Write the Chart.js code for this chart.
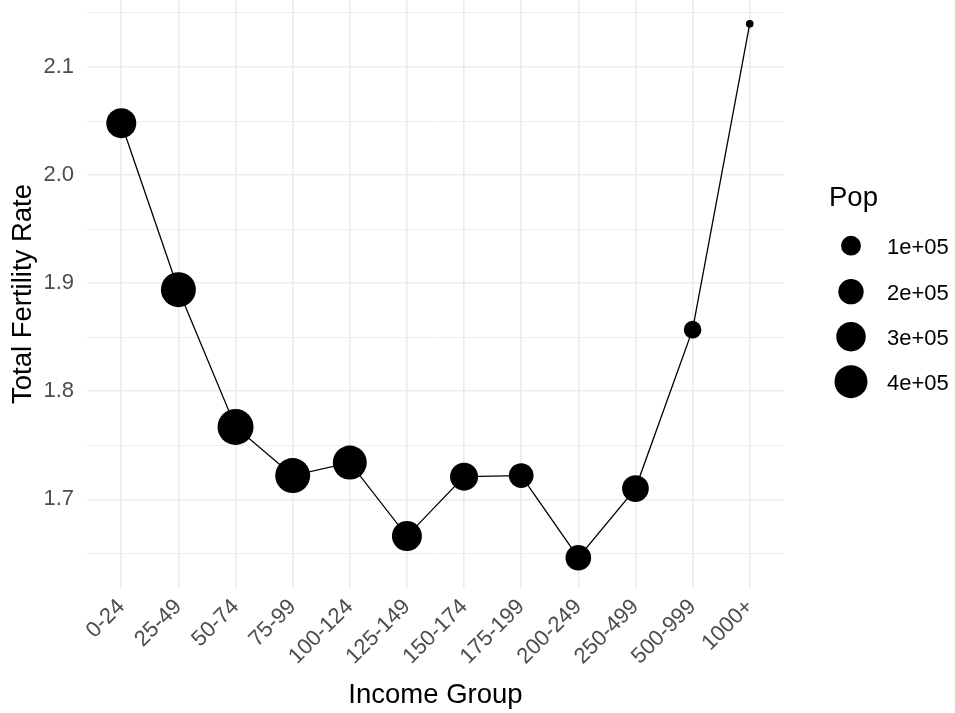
<!DOCTYPE html>
<html>
<head>
<meta charset="utf-8">
<script src="https://cdn.jsdelivr.net/npm/chart.js@4/dist/chart.umd.min.js"></script>
<style>
  html, body { margin: 0; padding: 0; background: #ffffff; }
  #wrap { width: 955px; height: 713px; position: relative; }
</style>
</head>
<body>
<div id="wrap"><canvas id="c" width="955" height="713"></canvas></div>
<script>
// ---- data ----
const incomeGroups = ['0-24','25-49','50-74','75-99','100-124','125-149','150-174','175-199','200-249','250-499','500-999','1000+'];
const fertilityRate = [2.048, 1.894, 1.767, 1.722, 1.734, 1.666, 1.721, 1.722, 1.646, 1.710, 1.857, 2.140];
const population = [314000, 466000, 500000, 466000, 433000, 314000, 262000, 187000, 208000, 231000, 71000, 10000];
const yTickValues = [1.65, 1.70, 1.75, 1.80, 1.85, 1.90, 1.95, 2.00, 2.05, 2.10, 2.15];
const legendBreaks = [100000, 200000, 300000, 400000];
const legendLabels = ['1e+05', '2e+05', '3e+05', '4e+05'];

// ---- size scale (area-like) ----
const popMin = Math.min(...population), popMax = Math.max(...population);
function pointDiameter(v) {
  const t = Math.max(0, (v - popMin) / (popMax - popMin));
  return 7.7 + 28.3 * Math.sqrt(t);
}

const FONT = "'Liberation Sans', Arial, sans-serif";
const isMajor = v => Math.abs(v * 10 - Math.round(v * 10)) < 1e-6;

const legendPlugin = {
  id: 'sizeLegend',
  afterDraw(chart) {
    const ctx = chart.ctx;
    ctx.save();
    ctx.fillStyle = '#000000';
    ctx.font = '27.5px ' + FONT;
    ctx.textAlign = 'left';
    ctx.textBaseline = 'alphabetic';
    ctx.fillText('Pop', 829, 206);
    const ys = [245.7, 291.7, 336.7, 381.7];
    legendBreaks.forEach((b, i) => {
      const r = pointDiameter(b) / 2;
      ctx.beginPath();
      ctx.arc(851, ys[i], r, 0, Math.PI * 2);
      ctx.fill();
      ctx.font = '22px ' + FONT;
      ctx.fillText(legendLabels[i], 887, ys[i] + 8);
    });
    ctx.restore();
  }
};

const chart = new Chart(document.getElementById('c'), {
  type: 'line',
  data: {
    datasets: [{
      data: fertilityRate.map((y, i) => ({ x: i, y: y })),
      borderColor: '#000000',
      borderWidth: 1.3,
      tension: 0,
      pointBackgroundColor: '#000000',
      pointBorderWidth: 0,
      pointRadius: ctx => pointDiameter(population[ctx.dataIndex]) / 2,
      pointHoverRadius: ctx => pointDiameter(population[ctx.dataIndex]) / 2,
      clip: false
    }]
  },
  options: {
    responsive: false,
    animation: false,
    events: [],
    layout: { autoPadding: false, padding: { left: 0, right: 171, top: 0, bottom: 0 } },
    plugins: { legend: { display: false }, tooltip: { enabled: false } },
    scales: {
      x: {
        type: 'linear',
        min: -0.6,
        max: 11.6,
        afterBuildTicks: scale => { scale.ticks = incomeGroups.map((_, i) => ({ value: i })); },
        afterFit: scale => { scale.height = 125; scale.paddingLeft = 0; scale.paddingRight = 0; },
        border: { display: false },
        grid: { color: '#ebebeb', lineWidth: 1.6, drawTicks: false },
        ticks: {
          autoSkip: false,
          minRotation: 45,
          maxRotation: 45,
          padding: 6,
          color: '#4d4d4d',
          font: { family: FONT, size: 22 },
          callback: v => incomeGroups[v]
        },
        title: {
          display: true,
          text: 'Income Group',
          color: '#000000',
          font: { family: FONT, size: 27.5 },
          padding: { top: 0, bottom: 1 }
        }
      },
      y: {
        min: 1.618,
        max: 2.162,
        afterBuildTicks: scale => { scale.ticks = yTickValues.map(v => ({ value: v })); },
        afterFit: scale => { scale.width = 87; scale.paddingTop = 0; scale.paddingBottom = 0; },
        border: { display: false },
        grid: {
          color: '#ebebeb',
          drawTicks: false,
          lineWidth: ctx => (ctx.tick && isMajor(ctx.tick.value)) ? 1.6 : 0.9
        },
        ticks: {
          padding: 13,
          color: '#4d4d4d',
          font: { family: FONT, size: 22 },
          callback: v => isMajor(v) ? v.toFixed(1) : ''
        },
        title: {
          display: true,
          text: 'Total Fertility Rate',
          color: '#000000',
          font: { family: FONT, size: 27.5 },
          padding: { top: 6.5, bottom: 0 }
        }
      }
    }
  },
  plugins: [legendPlugin]
});
</script>
</body>
</html>
